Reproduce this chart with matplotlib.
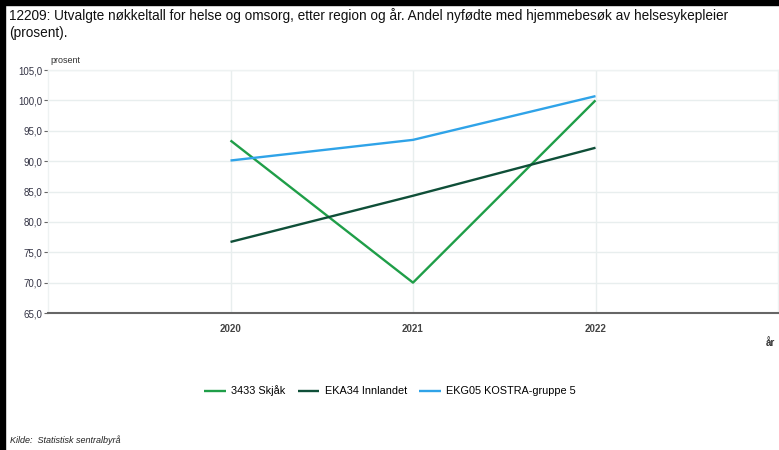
import matplotlib
matplotlib.use("Agg")
import matplotlib.pyplot as plt
from matplotlib.patches import Rectangle
from matplotlib.ticker import FuncFormatter

plt.rcParams['font.family'] = ['Liberation Sans', 'DejaVu Sans']

years = [2020, 2021, 2022]
series_names = ["3433 Skjåk", "EKA34 Innlandet", "EKG05 KOSTRA-gruppe 5"]
skjak = [93.4, 70.0, 100.0]
innlandet = [76.7, 84.3, 92.2]
kostra = [90.1, 93.5, 100.7]
colors = ["#1f9e48", "#0f4f38", "#2fa3e8"]
yticks = [65, 70, 75, 80, 85, 90, 95, 100, 105]

title = ("12209: Utvalgte nøkkeltall for helse og omsorg, etter region og år. "
         "Andel nyfødte med hjemmebesøk av helsesykepleier\n(prosent).")

W, H = 779, 450
fig = plt.figure(figsize=(W / 100, H / 100), dpi=100)
fig.patch.set_facecolor("white")

# black frame on left and top
fig.add_artist(Rectangle((0, 0), 5 / W, 1, transform=fig.transFigure, color="black", zorder=10))
fig.add_artist(Rectangle((0, 1 - 5 / H), 1, 5 / H, transform=fig.transFigure, color="black", zorder=10))

left, right, top, bottom = 48, 778, 70, 313
ax = fig.add_axes([left / W, 1 - bottom / H, (right - left) / W, (bottom - top) / H])

for vals, name, c in zip([skjak, innlandet, kostra], series_names, colors):
    ax.plot(years, vals, color=c, lw=1.7, label=name, solid_capstyle="butt")

ax.set_xlim(2019, 2023)
ax.set_ylim(65, 105)
ax.set_xticks(years)
ax.set_yticks(yticks)
ax.yaxis.set_major_formatter(FuncFormatter(lambda v, p: f"{v:.1f}".replace(".", ",")))
ax.grid(True, color="#e8eeee", lw=1)
ax.set_axisbelow(True)
ax.tick_params(axis="y", length=3, color="#666666", labelsize=7, labelcolor="#333344", pad=1)
ax.tick_params(axis="x", length=0, labelsize=7, labelcolor="#444444", pad=8)
for lab in ax.get_xticklabels():
    lab.set_fontweight("bold")
for s in ["top", "right", "left"]:
    ax.spines[s].set_color("#eef2f2")
    ax.spines[s].set_linewidth(1)
ax.spines["bottom"].set_color("#666666")
ax.spines["bottom"].set_linewidth(1.5)

fig.text(9 / W, 1 - 8 / H, title, ha="left", va="top", fontsize=9.8, color="#111111", linespacing=1.3)
fig.text(50 / W, 1 - 65 / H, "prosent", ha="left", va="bottom", fontsize=6.5, color="#333333")
fig.text(775 / W, 1 - 343 / H, "år", ha="right", va="center", fontsize=7, color="#333333", fontweight="bold")
fig.text(10 / W, 1 - 440 / H, "Kilde:  Statistisk sentralbyrå", ha="left", va="center",
         fontsize=6.5, style="italic", color="#222222")

fig.legend(loc="center", bbox_to_anchor=(390 / W, 1 - 391 / H), ncol=3, frameon=False,
           fontsize=7.8, handlelength=2.0, columnspacing=1.1, handletextpad=0.5)

fig.savefig("out.png", dpi=100)
